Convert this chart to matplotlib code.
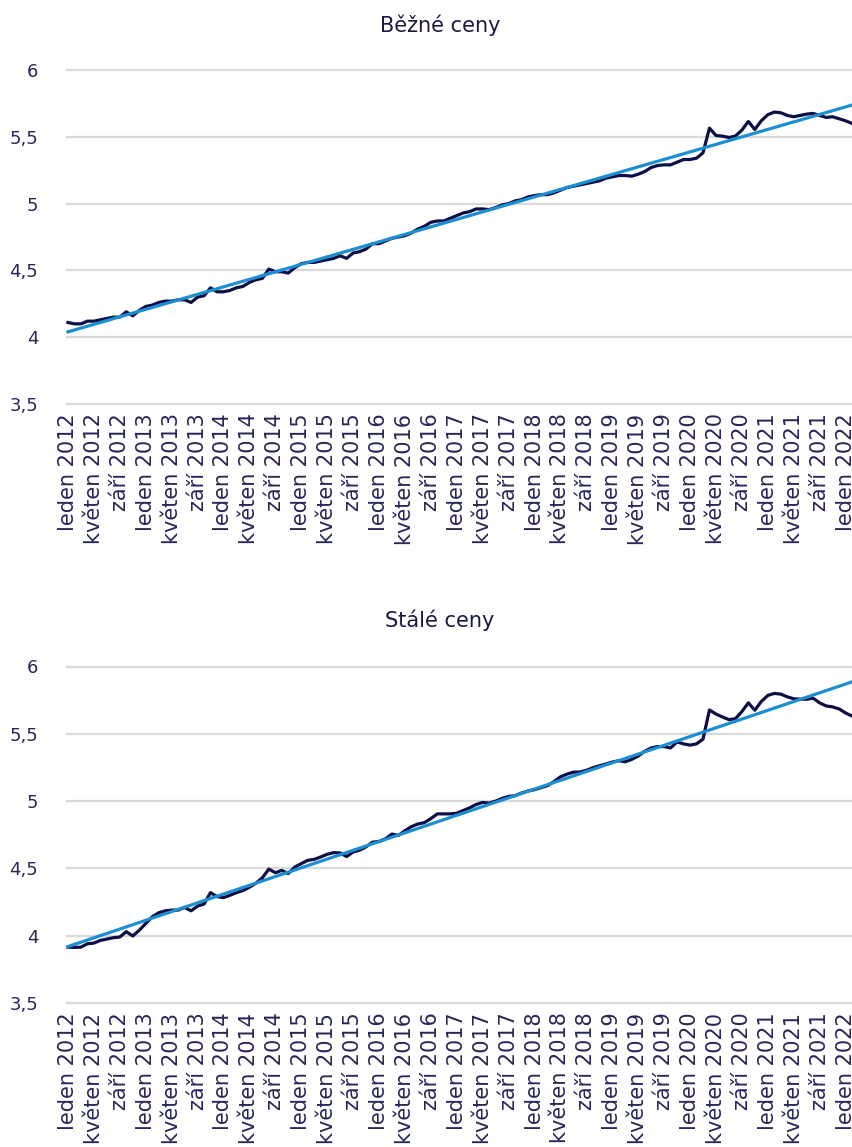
import numpy as np
import matplotlib
matplotlib.use("Agg")
import matplotlib.pyplot as plt

# Monthly observations, January 2012 - February 2022
bezne_ceny = [
    4.11, 4.10, 4.10, 4.12, 4.12, 4.13, 4.14, 4.15, 4.15, 4.19,
    4.16, 4.20, 4.23, 4.24, 4.26, 4.27, 4.27, 4.28, 4.28, 4.26,
    4.30, 4.31, 4.37, 4.34, 4.34, 4.35, 4.37, 4.38, 4.41, 4.43,
    4.44, 4.51, 4.49, 4.49, 4.48, 4.52, 4.55, 4.56, 4.56, 4.57,
    4.58, 4.59, 4.61, 4.59, 4.63, 4.64, 4.66, 4.70, 4.70, 4.72,
    4.74, 4.75, 4.76, 4.78, 4.81, 4.83, 4.86, 4.87, 4.87, 4.89,
    4.91, 4.93, 4.94, 4.96, 4.96, 4.955, 4.97, 4.99, 5.00, 5.02,
    5.03, 5.05, 5.06, 5.067, 5.067, 5.08, 5.10, 5.12, 5.13, 5.14,
    5.15, 5.16, 5.17, 5.19, 5.20, 5.21, 5.21, 5.205, 5.22, 5.24,
    5.27, 5.285, 5.29, 5.29, 5.31, 5.33, 5.33, 5.34, 5.38, 5.565,
    5.51, 5.505, 5.495, 5.505, 5.55, 5.615, 5.555, 5.62, 5.665, 5.685,
    5.68, 5.66, 5.65, 5.66, 5.67, 5.675, 5.66, 5.645, 5.65, 5.635,
    5.62, 5.60,
]

stale_ceny = [
    3.915, 3.913, 3.915, 3.94, 3.945, 3.965, 3.975, 3.985, 3.99, 4.03,
    3.998, 4.04, 4.09, 4.14, 4.17, 4.185, 4.19, 4.19, 4.21, 4.185,
    4.22, 4.235, 4.32, 4.29, 4.283, 4.30, 4.32, 4.335, 4.36, 4.39,
    4.43, 4.495, 4.468, 4.485, 4.462, 4.51, 4.535, 4.56, 4.567, 4.585,
    4.605, 4.617, 4.615, 4.588, 4.622, 4.635, 4.66, 4.695, 4.70, 4.72,
    4.755, 4.745, 4.78, 4.81, 4.83, 4.84, 4.87, 4.905, 4.905, 4.905,
    4.91, 4.93, 4.95, 4.975, 4.99, 4.985, 5.00, 5.02, 5.035, 5.04,
    5.06, 5.075, 5.085, 5.10, 5.115, 5.145, 5.18, 5.20, 5.215, 5.216,
    5.228, 5.248, 5.262, 5.275, 5.29, 5.30, 5.292, 5.31, 5.335, 5.37,
    5.395, 5.405, 5.405, 5.395, 5.44, 5.425, 5.416, 5.425, 5.46, 5.677,
    5.647, 5.625, 5.605, 5.612, 5.665, 5.73, 5.675, 5.74, 5.785, 5.80,
    5.795, 5.775, 5.76, 5.757, 5.757, 5.764, 5.73, 5.707, 5.70, 5.685,
    5.655, 5.632,
]

month_names = ["leden", "květen", "září"]
years = list(range(2012, 2023))
tick_labels = [f"{m} {y}" for y in years for m in month_names][:31]

y_ticks = [3.5, 4.0, 4.5, 5.0, 5.5, 6.0]
y_tick_labels = ["3,5", "4", "4,5", "5", "5,5", "6"]

titles = ["Běžné ceny", "Stálé ceny"]
series = [bezne_ceny, stale_ceny]

W, H = 853, 1147
DATA_COLOR = "#0f0f47"
TREND_COLOR = "#1c8fd2"
TEXT_COLOR = "#262659"
GRID_COLOR = "#d9d9d9"

fig = plt.figure(figsize=(W / 100, H / 100), dpi=100)
fig.patch.set_facecolor("white")

# pixel geometry of each panel: (y of 3.5 gridline, y of 6 gridline), title y
panels = [((404.0, 70.0), 25.0), ((1003.0, 666.5), 620.0)]

x_left_px, px_per_month = 66.0, 6.48
x0 = -0.3
x1 = x0 + (W - x_left_px) / px_per_month

for ((y35, y6), title_y), title, vals in zip(panels, titles, series):
    ppu = (y35 - y6) / 2.5
    lo, hi = 3.45, 6.05
    bottom_px = y35 + (3.5 - lo) * ppu
    top_px = y6 - (hi - 6.0) * ppu
    ax = fig.add_axes([x_left_px / W, 1 - bottom_px / H,
                       1 - x_left_px / W, (bottom_px - top_px) / H])
    ax.set_xlim(x0, x1)
    ax.set_ylim(lo, hi)

    t = np.arange(len(vals))
    v = np.array(vals)
    # linear trend fitted to the monthly series
    coef = np.polyfit(t, v, 1)
    t_fit = np.array([0, x1 + 1])
    ax.plot(t, v, color=DATA_COLOR, lw=2.3, solid_joinstyle="round", zorder=3)
    ax.plot(t_fit, np.polyval(coef, t_fit), color=TREND_COLOR, lw=2.3, zorder=4)

    for yt in y_ticks:
        ax.axhline(yt, color=GRID_COLOR, lw=1.6, zorder=1)

    ax.set_yticks(y_ticks)
    ax.set_yticklabels(y_tick_labels)
    ax.set_xticks(np.arange(0, 121, 4))
    ax.set_xticklabels(tick_labels, rotation=90)
    ax.tick_params(axis="y", length=0, pad=20, labelsize=13, labelcolor=TEXT_COLOR)
    ax.tick_params(axis="x", length=0, pad=2, labelsize=15, labelcolor=TEXT_COLOR)
    for lab in ax.get_yticklabels():
        lab.set_horizontalalignment("right")
    for s in ax.spines.values():
        s.set_visible(False)
    ax.set_facecolor("none")

    fig.text(440 / W, 1 - title_y / H, title, ha="center", va="center",
             fontsize=15, color="#1a1a40")

fig.savefig("out.png", dpi=100, facecolor="white")
